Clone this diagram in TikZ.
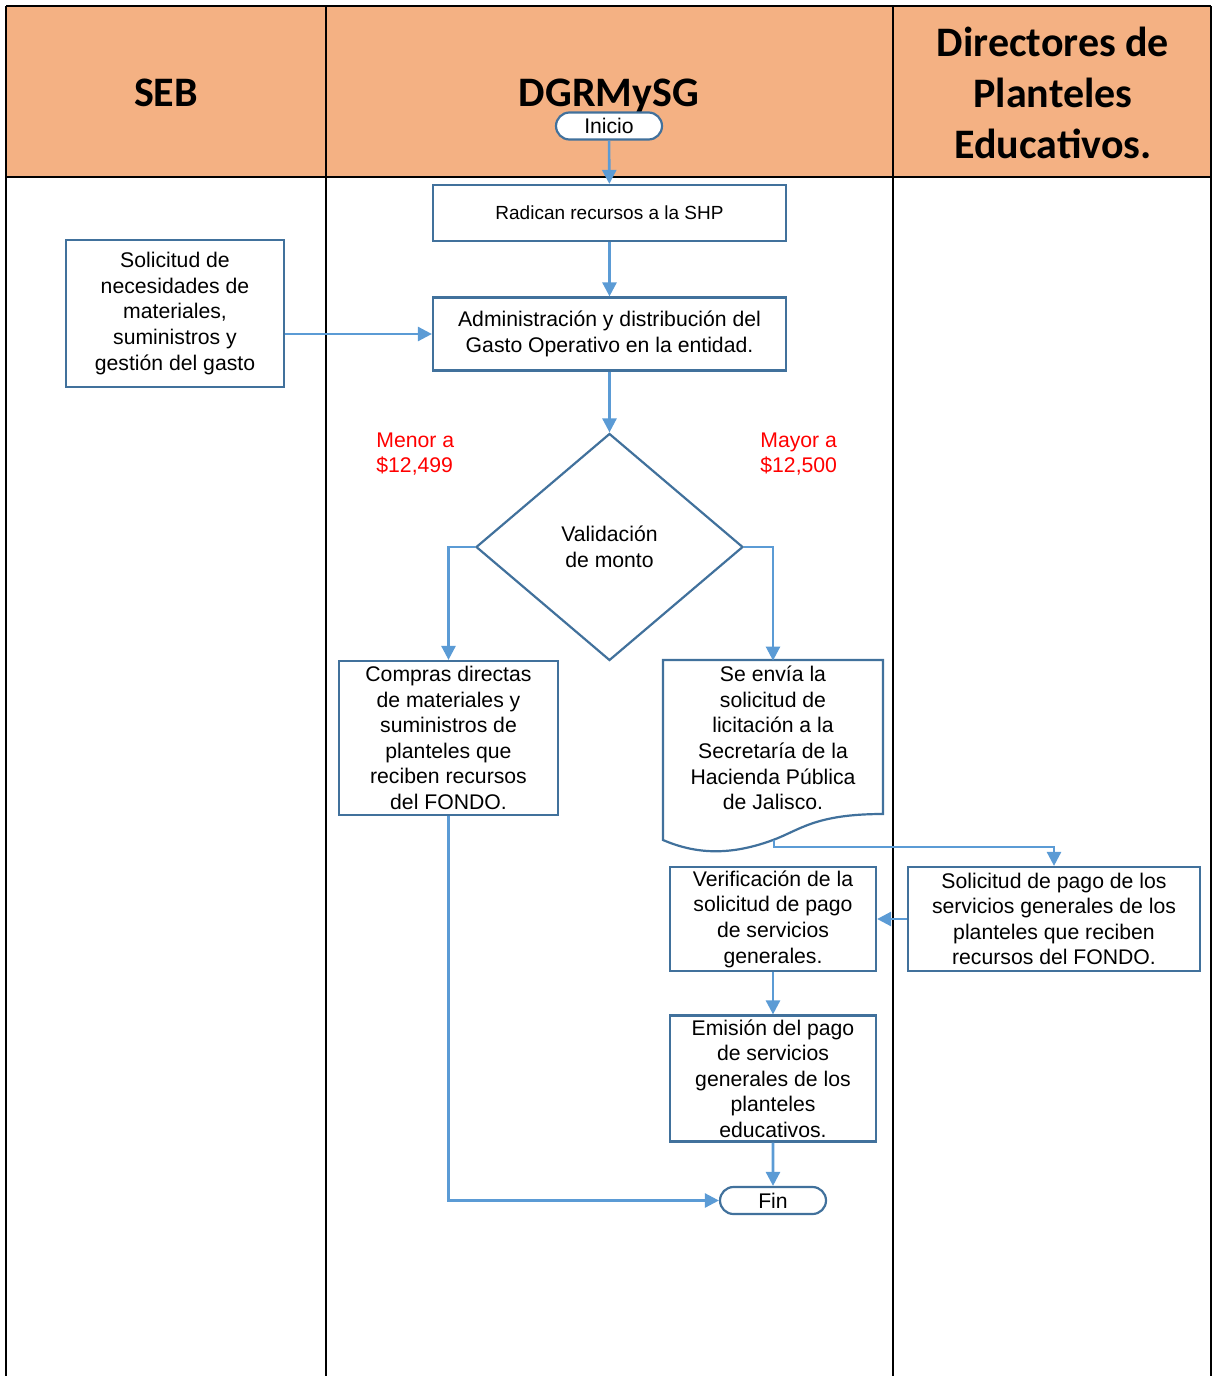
\documentclass[tikz,border=0pt]{standalone}
\usepackage{fontspec}
\setmainfont{Liberation Sans}
\newfontfamily\headfont{Carlito}
\usetikzlibrary{calc,positioning,arrows.meta,shapes.geometric,shapes.misc}
\definecolor{headpeach}{HTML}{F4B183}
\definecolor{boxblue}{HTML}{41719C}
\definecolor{flowblue}{HTML}{5B9BD5}
\tikzset{
  lane/.style={line width=1.2pt, draw=black},
  hdr/.style={font=\headfont\bfseries\fontsize{21}{25.5}\selectfont, align=center},
  pbox/.style={draw=boxblue, fill=white, line width=1.1pt, align=center,
               inner sep=0pt, font=\fontsize{10.6}{12.8}\selectfont},
  term/.style={rounded rectangle, draw=boxblue, fill=white, line width=1.1pt,
               minimum width=53pt, minimum height=13.5pt, inner sep=0pt,
               font=\fontsize{10.6}{12.8}\selectfont},
  flow/.style={line width=1.3pt, draw=flowblue,
               -{Triangle[length=7pt,width=7pt]}, flowblue},
  amount/.style={text=red, align=left, inner sep=0pt,
                 font=\fontsize{10.6}{12.8}\selectfont}
}

\begin{document}
\begin{tikzpicture}[x=0.5pt, y=-0.5pt]
  \useasboundingbox (0,0) rectangle (1212,1376);
  \fill[headpeach] (6,6) rectangle (1211,177);
  \draw[lane] (6,6) -- (1211,6);
  \draw[lane] (6,177) -- (1211,177);
  \draw[lane] (6,6) -- (6,1376);
  \draw[lane] (326,6) -- (326,1376);
  \draw[lane] (893,6) -- (893,1376);
  \draw[lane] (1211,6) -- (1211,1376);
  \node[hdr] (seb) at (166,93) {SEB};
  \node[hdr] (dgr) at (609,96) {DGRMySG};
  \node[hdr] (dpe) at (1053,93) {Directores de\\Planteles\\Educativos.};

  \node[term] (ini) at (609,126) {Inicio};
  \node[pbox, minimum width=176.5pt, minimum height=28pt,
        font=\fontsize{9.5}{11.5}\selectfont] (rad) at (609.5,213) {Radican recursos a la SHP};
  \node[pbox, minimum width=176.5pt, minimum height=36.5pt] (adm) at (609.5,334)
    {Administración y distribución del\\Gasto Operativo en la entidad.};
  \node[pbox, minimum width=109pt, minimum height=73.5pt] (sol) at (175,313.5)
    {Solicitud de\\necesidades de\\materiales,\\suministros y\\gestión del gasto};
  \node[pbox, diamond, minimum width=133.5pt, minimum height=113.5pt] (val) at (609.5,547)
    {Validación\\de monto};
  \node[amount, anchor=west] (men) at (376,454) {Menor a\\\$12,499};
  \node[amount, anchor=west] (may) at (760,454) {Mayor a\\\$12,500};
  \node[pbox, minimum width=109.5pt, minimum height=77pt] (dir) at (448.5,738)
    {Compras directas\\de materiales y\\suministros de\\planteles que\\reciben recursos\\del FONDO.};
  \draw[draw=boxblue, fill=white, line width=1.1pt] (663,840) -- (663,660) -- (883,660) -- (883,814)
    .. controls (815,814) and (800,830) .. (773,840)
    .. controls (735,854) and (700,856) .. cycle;
  \node[align=center, inner sep=0pt, font=\fontsize{10.6}{12.8}\selectfont,
        minimum width=110pt, minimum height=77pt] (lic) at (773,738)
    {Se envía la\\solicitud de\\licitación a la\\Secretaría de la\\Hacienda Pública\\de Jalisco.};
  \coordinate (licout) at (774,840);
  \node[pbox, minimum width=103pt, minimum height=52pt] (ver) at (773,919)
    {Verificación de la\\solicitud de pago\\de servicios\\generales.};
  \node[pbox, minimum width=146pt, minimum height=52pt] (pag) at (1054,919)
    {Solicitud de pago de los\\servicios generales de los\\planteles que reciben\\recursos del FONDO.};
  \node[pbox, minimum width=103pt, minimum height=63pt] (emi) at (773,1078.5)
    {Emisión del pago\\de servicios\\generales de los\\planteles\\educativos.};
  \node[term] (fin) at (773,1200.5) {Fin};

  \draw[flow] (ini) -- (rad);
  \draw[flow] (rad) -- (adm);
  \draw[flow] (sol.east |- adm.west) -- (adm.west);
  \draw[flow] (adm) -- (val);
  \draw[flow] (val.west) -| (dir.north);
  \draw[flow] (val.east) -| (lic.north);
  \draw[flow] (licout) -- ++(0,7) -| (pag.north);
  \draw[flow] (pag.west) -- (ver.east);
  \draw[flow] (ver) -- (emi);
  \draw[flow] (emi) -- (fin);
  \draw[flow] (dir.south) |- (fin.west);
\end{tikzpicture}
\end{document}
